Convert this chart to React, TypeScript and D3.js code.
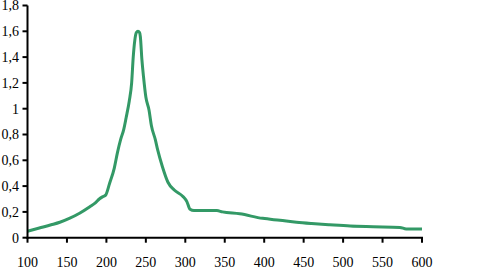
import React from "react";
import * as d3 from "d3";

const xValues = [100, 115, 130, 141, 153, 166, 179, 186, 191, 196, 199, 204, 210, 214, 218, 222, 225, 229, 232, 234, 236, 238, 240, 242, 243, 245, 247, 250, 254, 257, 262, 265, 271, 278, 286, 297, 302, 306, 311, 320, 340, 347, 369, 398, 420, 441, 460, 483, 509, 538, 572, 580, 600];
const yValues = [0.05, 0.075, 0.1, 0.12, 0.15, 0.19, 0.24, 0.27, 0.3, 0.32, 0.33, 0.42, 0.54, 0.66, 0.76, 0.84, 0.93, 1.06, 1.2, 1.4, 1.53, 1.59, 1.6, 1.59, 1.56, 1.38, 1.25, 1.09, 0.99, 0.87, 0.76, 0.68, 0.55, 0.43, 0.37, 0.32, 0.28, 0.22, 0.21, 0.21, 0.21, 0.2, 0.185, 0.15, 0.135, 0.12, 0.11, 0.1, 0.09, 0.085, 0.08, 0.068, 0.067];
const xTicks = [100, 150, 200, 250, 300, 350, 400, 450, 500, 550, 600];
const yTicks = [0, 0.2, 0.4, 0.6, 0.8, 1, 1.2, 1.4, 1.6, 1.8];

const W = 503;
const H = 272;
const left = 27.5;
const right = 422;
const top = 5.5;
const bottom = 237.7;

export default function App() {
  const x = d3.scaleLinear().domain([100, 600]).range([left, right]);
  const y = d3.scaleLinear().domain([0, 1.8]).range([bottom, top]);
  const pts: [number, number][] = xValues.map((v, i) => [v, yValues[i]]);
  const line = d3
    .line<[number, number]>()
    .x((d) => x(d[0]))
    .y((d) => y(d[1]))
    .curve(d3.curveMonotoneX);
  const fmt = (v: number) => String(v).replace(".", ",");
  const font = "'Liberation Serif', 'Times New Roman', serif";
  return (
    <svg
      width={W}
      height={H}
      style={{ position: "absolute", left: 0, top: 0, background: "#fff" }}
    >
      <path d={line(pts) || ""} fill="none" stroke="#339966" strokeWidth={3} strokeLinejoin="round" />
      <line x1={left} x2={left} y1={top} y2={bottom + 1} stroke="#000" strokeWidth={2} />
      <line x1={left - 1} x2={right + 1} y1={bottom} y2={bottom} stroke="#000" strokeWidth={2} />
      {yTicks.map((t) => (
        <g key={"y" + t}>
          <line x1={left - 5} x2={left} y1={y(t)} y2={y(t)} stroke="#000" strokeWidth={2} />
          <text
            x={19}
            y={y(t)}
            dy="0.35em"
            textAnchor="end"
            fontFamily={font}
            fontSize={14}
            fill="#000"
          >
            {fmt(t)}
          </text>
        </g>
      ))}
      {xTicks.map((t) => (
        <g key={"x" + t}>
          <line x1={x(t)} x2={x(t)} y1={bottom} y2={bottom + 5} stroke="#000" strokeWidth={2} />
          <text
            x={x(t)}
            y={267}
            textAnchor="middle"
            fontFamily={font}
            fontSize={14}
            fill="#000"
          >
            {t}
          </text>
        </g>
      ))}
    </svg>
  );
}
